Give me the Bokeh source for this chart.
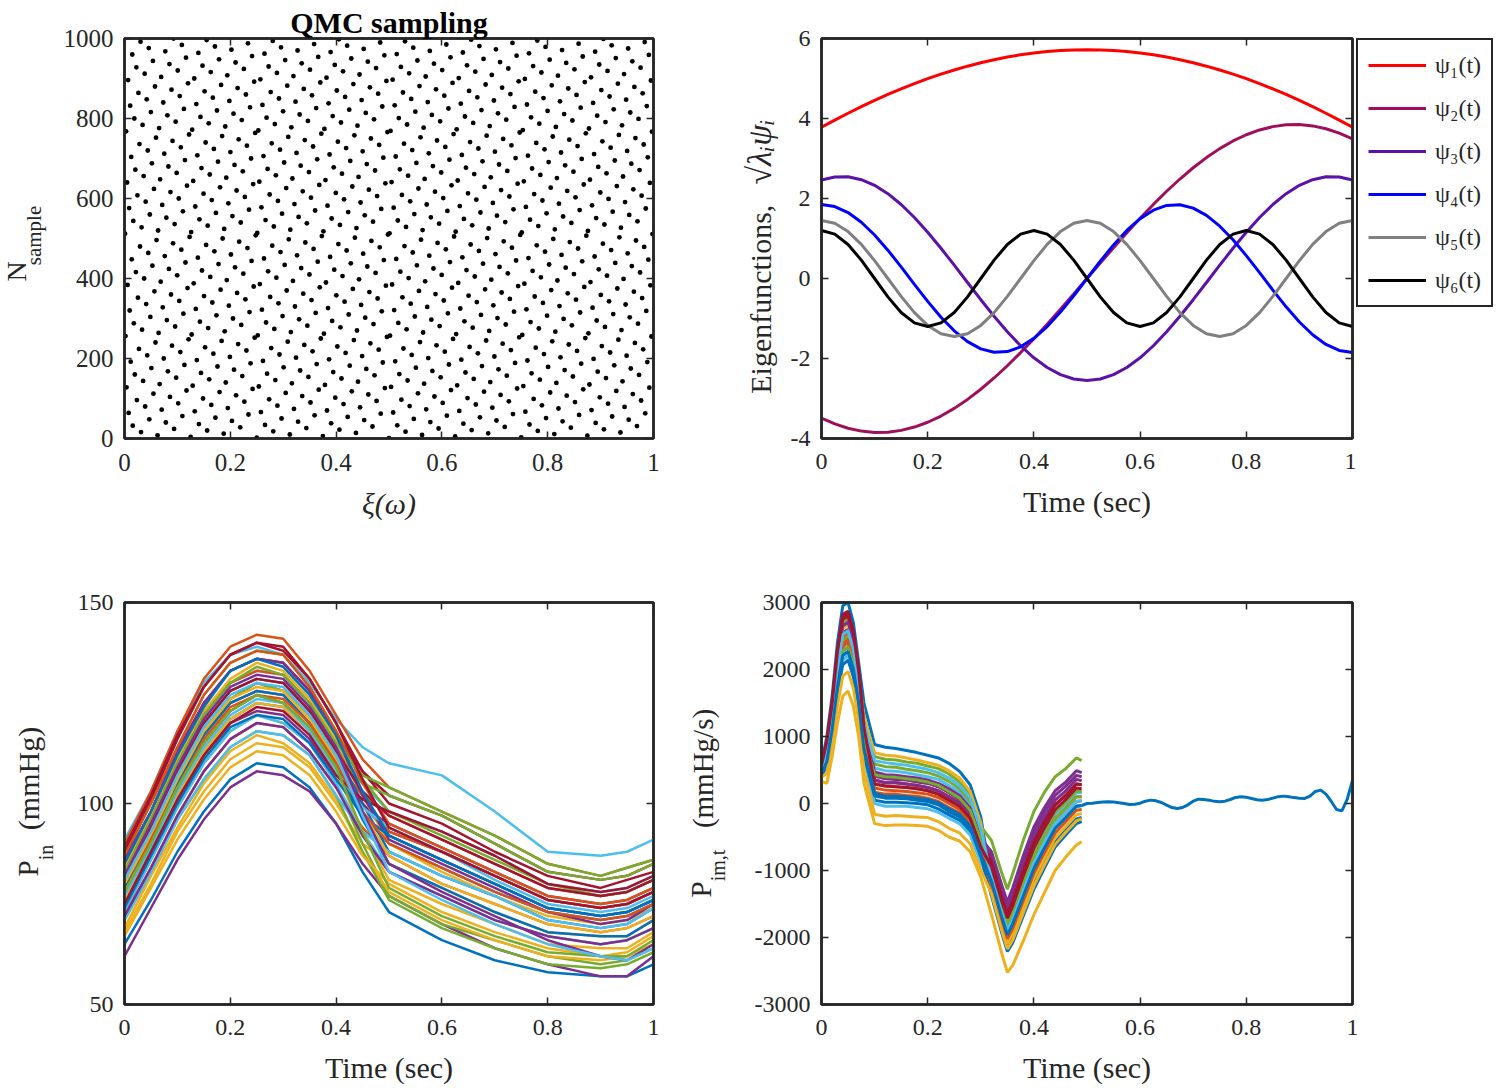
import numpy as np
from bokeh.plotting import figure
from bokeh.layouts import column, row
from bokeh.models import (Range1d, FixedTicker, LinearAxis, Legend, LegendItem,
                          ColumnDataSource)
from bokeh.core.properties import value
from bokeh.embed import file_html
from bokeh.resources import INLINE

FONT = "Liberation Serif"
INK = "#262626"
MATLAB_ORDER = ["#0072BD", "#D95319", "#EDB120", "#7E2F8E", "#77AC30", "#4DBEEE", "#A2142F"]

# ---------------- tick labels ----------------
X_TICKS = [0, 0.2, 0.4, 0.6, 0.8, 1]
X_TICK_LABELS = ["0", "0.2", "0.4", "0.6", "0.8", "1"]
QMC_Y_TICKS = [0, 200, 400, 600, 800, 1000]
QMC_Y_LABELS = ["0", "200", "400", "600", "800", "1000"]
EIG_Y_TICKS = [-4, -2, 0, 2, 4, 6]
EIG_Y_LABELS = ["-4", "-2", "0", "2", "4", "6"]
PIN_Y_TICKS = [50, 100, 150]
PIN_Y_LABELS = ["50", "100", "150"]
DP_Y_TICKS = [-3000, -2000, -1000, 0, 1000, 2000, 3000]
DP_Y_LABELS = ["-3000", "-2000", "-1000", "0", "1000", "2000", "3000"]

# ---------------- panel 1: QMC sampling (van der Corput / Sobol dim-1 points) ----------------
N_SAMPLES = 1000


def radical_inverse(n, base=2):
    v, denom = 0.0, 1.0
    while n:
        n, r = divmod(n, base)
        denom *= base
        v += r / denom
    return v


QMC_N = list(range(1, N_SAMPLES + 1))
QMC_XI = [radical_inverse(n) for n in QMC_N]

# ---------------- panel 2: eigenfunctions ----------------
T_EIG = [round(0.025 * k, 3) for k in range(41)]
PSI1 = [3.783, 3.960, 4.132, 4.296, 4.452, 4.601, 4.741, 4.872, 4.995, 5.109, 5.213, 5.308, 5.394,
        5.470, 5.536, 5.592, 5.638, 5.674, 5.699, 5.715, 5.720, 5.715, 5.699, 5.674, 5.638, 5.592,
        5.536, 5.470, 5.394, 5.308, 5.213, 5.109, 4.995, 4.872, 4.741, 4.601, 4.452, 4.296, 4.132,
        3.960, 3.783]
PSI2 = [-3.489, -3.635, -3.744, -3.815, -3.848, -3.842, -3.797, -3.714, -3.594, -3.438, -3.247,
        -3.023, -2.769, -2.487, -2.181, -1.852, -1.504, -1.142, -0.768, -0.386, 0.0, 0.386, 0.768,
        1.142, 1.504, 1.852, 2.181, 2.487, 2.769, 3.023, 3.247, 3.438, 3.594, 3.714, 3.797, 3.842,
        3.848, 3.815, 3.744, 3.635, 3.489]
PSI3 = [2.463, 2.539, 2.542, 2.471, 2.329, 2.120, 1.850, 1.526, 1.158, 0.756, 0.333, -0.100,
        -0.530, -0.945, -1.332, -1.681, -1.982, -2.225, -2.404, -2.513, -2.550, -2.513, -2.404,
        -2.225, -1.982, -1.681, -1.332, -0.945, -0.530, -0.100, 0.333, 0.756, 1.158, 1.526, 1.850,
        2.120, 2.329, 2.471, 2.542, 2.539, 2.463]
PSI4 = [1.850, 1.799, 1.648, 1.407, 1.087, 0.708, 0.289, -0.145, -0.572, -0.967, -1.308, -1.577,
        -1.760, -1.844, -1.827, -1.709, -1.497, -1.201, -0.840, -0.432, 0.0, 0.432, 0.840, 1.201,
        1.497, 1.709, 1.827, 1.844, 1.760, 1.577, 1.308, 0.967, 0.572, 0.145, -0.289, -0.708,
        -1.087, -1.407, -1.648, -1.799, -1.850]
PSI5 = [1.450, 1.379, 1.173, 0.852, 0.448, 0.0, -0.448, -0.852, -1.173, -1.379, -1.450, -1.379,
        -1.173, -0.852, -0.448, 0.0, 0.448, 0.852, 1.173, 1.379, 1.450, 1.379, 1.173, 0.852, 0.448,
        0.0, -0.448, -0.852, -1.173, -1.379, -1.450, -1.379, -1.173, -0.852, -0.448, 0.0, 0.448,
        0.852, 1.173, 1.379, 1.450]
PSI6 = [1.200, 1.109, 0.849, 0.459, 0.0, -0.459, -0.849, -1.109, -1.200, -1.109, -0.849, -0.459,
        0.0, 0.459, 0.849, 1.109, 1.200, 1.109, 0.849, 0.459, 0.0, -0.459, -0.849, -1.109, -1.200,
        -1.109, -0.849, -0.459, 0.0, 0.459, 0.849, 1.109, 1.200, 1.109, 0.849, 0.459, 0.0, -0.459,
        -0.849, -1.109, -1.200]
PSI_LABELS = ["ψ₁(t)", "ψ₂(t)", "ψ₃(t)", "ψ₄(t)", "ψ₅(t)", "ψ₆(t)"]
PSI_COLORS = ["#FF0000", "#A0105A", "#5C12A6", "#0000FF", "#808080", "#000000"]

# ---------------- panel 3: inlet pressure samples (mmHg) ----------------
T_P = [0, 0.05, 0.1, 0.15, 0.2, 0.25, 0.3, 0.35, 0.4, 0.45, 0.5, 0.6, 0.7, 0.8, 0.9, 0.95, 1.0]
P01 = [65, 76, 88, 98, 106, 110, 109, 104, 95, 83, 73, 66, 61, 58, 57, 57, 60]
P02 = [79, 91, 105, 117, 125, 128, 127, 120, 110, 102, 97, 91, 85, 79, 77, 78, 81]
P03 = [68, 80, 93, 103, 111, 115, 114, 109, 100, 90, 85, 79, 73, 68, 67, 67, 71]
P04 = [62, 74, 86, 96, 104, 108, 107, 103, 95, 85, 77, 70, 64, 60, 57, 57, 62]
P05 = [73, 86, 99, 110, 118, 122, 120, 115, 105, 90, 77, 70, 66, 62, 60, 61, 64]
P06 = [91, 103, 118, 130, 137, 139, 137, 130, 121, 114, 110, 107, 98, 88, 87, 88, 91]
P07 = [86, 98, 113, 125, 133, 136, 135, 128, 117, 108, 102, 97, 90, 83, 81, 82, 85]
P08 = [76, 89, 102, 113, 121, 125, 124, 118, 108, 97, 90, 84, 78, 73, 71, 72, 75]
P09 = [90, 103, 118, 131, 139, 142, 141, 133, 122, 111, 104, 98, 92, 85, 82, 84, 86]
P10 = [69, 82, 94, 105, 113, 117, 115, 110, 101, 88, 78, 71, 66, 62, 61, 62, 65]
P11 = [80, 93, 107, 118, 126, 130, 128, 122, 112, 100, 92, 86, 80, 74, 72, 73, 76]
P12 = [71, 83, 96, 106, 114, 118, 117, 112, 102, 88, 76, 69, 64, 60, 59, 60, 63]
P13 = [83, 96, 110, 122, 130, 133, 132, 125, 114, 105, 98, 93, 87, 80, 78, 79, 82]
P14 = [78, 90, 104, 115, 123, 127, 125, 119, 109, 100, 93, 88, 82, 76, 74, 75, 78]
P15 = [82, 94, 108, 120, 128, 131, 130, 123, 113, 100, 88, 82, 77, 71, 69, 70, 74]
P16 = [72, 84, 97, 108, 116, 120, 119, 113, 104, 94, 87, 80, 75, 70, 68, 69, 72]
P17 = [84, 97, 111, 123, 131, 135, 133, 126, 116, 102, 90, 83, 77, 72, 70, 71, 74]
P18 = [75, 87, 100, 112, 120, 123, 122, 116, 106, 99, 95, 89, 83, 77, 75, 76, 79]
P19 = [87, 100, 114, 127, 135, 138, 137, 129, 118, 106, 98, 92, 86, 80, 77, 78, 81]
P20 = [73, 86, 99, 110, 118, 122, 120, 115, 105, 93, 83, 77, 71, 67, 65, 66, 69]
P21 = [88, 101, 116, 129, 137, 140, 138, 131, 120, 108, 100, 95, 88, 82, 79, 81, 83]
P22 = [79, 91, 105, 117, 125, 128, 127, 120, 110, 96, 85, 79, 73, 68, 67, 67, 71]
P23 = [83, 96, 110, 122, 130, 133, 132, 125, 114, 102, 93, 88, 82, 76, 74, 75, 78]
P24 = [76, 89, 102, 113, 121, 125, 124, 118, 108, 93, 81, 75, 70, 65, 64, 64, 68]
P25 = [86, 98, 113, 125, 133, 136, 135, 128, 117, 102, 91, 85, 79, 73, 70, 71, 75]
P26 = [80, 93, 107, 118, 126, 130, 128, 122, 112, 105, 102, 97, 90, 83, 81, 82, 85]
P27 = [71, 83, 96, 106, 114, 118, 117, 112, 102, 93, 88, 82, 77, 71, 69, 70, 74]
P28 = [82, 94, 108, 120, 128, 131, 130, 123, 113, 103, 97, 91, 85, 79, 77, 78, 81]
P29 = [74, 87, 100, 111, 119, 122, 121, 115, 106, 97, 92, 86, 80, 74, 72, 73, 76]
P30 = [87, 100, 114, 127, 135, 138, 137, 129, 118, 105, 95, 89, 83, 77, 75, 76, 79]
P31 = [80, 92, 106, 118, 126, 129, 128, 121, 111, 98, 87, 80, 75, 70, 68, 69, 72]
P32 = [72, 84, 97, 108, 116, 120, 119, 113, 104, 92, 83, 77, 71, 67, 65, 66, 69]
P33 = [83, 96, 110, 122, 130, 134, 132, 125, 115, 107, 104, 98, 92, 85, 82, 84, 86]
P34 = [77, 89, 103, 114, 122, 126, 125, 118, 108, 99, 94, 88, 81, 75, 73, 74, 77]
P35 = [75, 88, 101, 112, 120, 124, 123, 117, 107, 101, 98, 93, 87, 80, 78, 79, 82]
P36 = [85, 98, 112, 124, 133, 136, 134, 127, 117, 103, 92, 86, 80, 74, 72, 73, 76]
P37 = [78, 91, 104, 116, 124, 127, 126, 120, 110, 98, 90, 84, 78, 73, 71, 72, 75]
P38 = [67, 79, 91, 101, 109, 113, 112, 107, 98, 87, 80, 73, 68, 64, 62, 63, 67]
P39 = [82, 95, 109, 121, 129, 132, 131, 124, 114, 98, 85, 78, 72, 66, 62, 61, 65]
P40 = [78, 90, 104, 115, 123, 127, 125, 119, 109, 93, 79, 72, 67, 63, 62, 62, 66]
P41 = [81, 93, 107, 119, 127, 130, 129, 122, 112, 97, 83, 76, 70, 65, 62, 61, 64]
P42 = [89, 102, 117, 129, 137, 140, 139, 131, 120, 106, 94, 88, 82, 76, 74, 75, 78]
P_IN_SAMPLES = [P01, P02, P03, P04, P05, P06, P07, P08, P09, P10, P11, P12, P13, P14, P15, P16,
                P17, P18, P19, P20, P21, P22, P23, P24, P25, P26, P27, P28, P29, P30, P31, P32,
                P33, P34, P35, P36, P37, P38, P39, P40, P41, P42]

# ---------------- panel 4: pressure time-derivative samples (mmHg/s) ----------------
T_D = [0, 0.01, 0.02, 0.03, 0.04, 0.05, 0.06, 0.07, 0.08, 0.10, 0.12, 0.14, 0.16, 0.18, 0.20,
       0.22, 0.24, 0.26, 0.28, 0.30, 0.32, 0.34, 0.35, 0.36, 0.38, 0.40, 0.42, 0.44, 0.46, 0.48,
       0.49]
D01 = [600, 1000, 1600, 2400, 2950, 3000, 2700, 2100, 1500, 880, 840, 820, 790, 760, 720, 680,
       600, 480, 280, -200, -1160, -1710, -1960, -1800, -1380, -970, -660, -370, -210, -40, -30]
D02 = [480, 690, 1200, 1860, 2340, 2410, 2140, 1610, 900, 230, 200, 190, 180, 160, 140, 90, 0,
       -90, -270, -700, -1100, -1650, -1900, -1740, -1300, -890, -580, -300, -140, 30, 40]
D03 = [330, 300, 700, 1200, 1600, 1680, 1450, 1000, 300, -300, -330, -320, -320, -330, -340,
       -400, -500, -560, -720, -1100, -1650, -2250, -2520, -2420, -2050, -1660, -1330, -1000,
       -800, -620, -570]
D04 = [520, 790, 1330, 2040, 2550, 2600, 2330, 1770, 1080, 410, 370, 360, 350, 320, 300, 250,
       160, 60, -120, -560, -830, -1350, -1590, -1390, -930, -510, -210, 50, 190, 360, 340]
D05 = [550, 870, 1440, 2180, 2710, 2760, 2480, 1900, 1300, 700, 660, 650, 620, 600, 560, 520,
       440, 320, 130, -340, -550, -1050, -1280, -1050, -550, -120, 170, 400, 520, 680, 640]
D06 = [490, 720, 1240, 1920, 2410, 2470, 2200, 1660, 1080, 530, 490, 480, 460, 430, 400, 360,
       270, 170, -20, -470, -990, -1530, -1780, -1600, -1150, -740, -430, -160, -10, 160, 160]
D07 = [570, 930, 1510, 2280, 2820, 2870, 2580, 1990, 1170, 350, 310, 310, 290, 270, 240, 190,
       100, 10, -170, -600, -880, -1410, -1650, -1460, -1000, -580, -280, -20, 120, 290, 280]
D08 = [450, 620, 1100, 1740, 2210, 2270, 2010, 1500, 750, 50, 20, 20, 10, 0, -20, -80, -170,
       -250, -420, -830, -1320, -1890, -2150, -2010, -1600, -1200, -880, -580, -400, -230, -210]
D09 = [510, 760, 1290, 1980, 2480, 2540, 2260, 1720, 930, 170, 140, 140, 120, 110, 80, 30, -60,
       -140, -320, -740, -1050, -1590, -1840, -1670, -1230, -810, -510, -230, -70, 100, 100]
D10 = [530, 830, 1380, 2100, 2610, 2670, 2390, 1830, 1290, 760, 720, 710, 680, 650, 610, 570,
       490, 380, 180, -290, -1270, -1830, -2090, -1940, -1530, -1120, -810, -510, -340, -170,
       -150]
D11 = [470, 650, 1150, 1800, 2280, 2340, 2080, 1550, 930, 350, 310, 310, 290, 270, 240, 190, 100,
       10, -170, -600, -770, -1290, -1530, -1320, -850, -430, -130, 120, 260, 420, 400]
D12 = [500, 730, 1260, 1940, 2440, 2500, 2230, 1680, 1120, 590, 550, 540, 510, 490, 460, 410,
       330, 220, 30, -430, -970, -1510, -1750, -1570, -1120, -710, -400, -130, 20, 190, 180]
D13 = [440, 580, 1060, 1680, 2140, 2210, 1950, 1440, 690, 0, -40, -40, -40, -60, -80, -130, -220,
       -300, -470, -880, -1160, -1710, -1960, -1800, -1380, -970, -660, -370, -210, -40, -30]
D14 = [560, 900, 1470, 2220, 2750, 2800, 2510, 1940, 1180, 430, 400, 390, 370, 350, 320, 270,
       180, 80, -100, -540, -880, -1410, -1650, -1460, -1000, -580, -280, -20, 120, 290, 280]
D15 = [420, 550, 1020, 1620, 2070, 2140, 1890, 1390, 720, 110, 80, 80, 70, 50, 30, -20, -120,
       -200, -370, -790, -1380, -1950, -2210, -2080, -1680, -1280, -960, -650, -470, -300, -270]
D16 = [490, 710, 1220, 1900, 2380, 2450, 2180, 1640, 950, 290, 260, 250, 240, 220, 190, 140, 50,
       -40, -220, -650, -1210, -1770, -2020, -1870, -1450, -1040, -730, -440, -270, -100, -90]
D17 = [390, 450, 900, 1460, 1900, 1970, 1720, 1240, 500, -160, -190, -180, -190, -200, -210,
       -270, -370, -440, -600, -990, -1340, -1910, -2170, -2040, -1630, -1230, -910, -610, -430,
       -260, -230]
D18 = [540, 850, 1400, 2140, 2650, 2710, 2420, 1860, 1160, 470, 430, 420, 400, 380, 350, 300,
       220, 120, -70, -520, -720, -1230, -1470, -1260, -780, -350, -60, 190, 320, 490, 460]
D19 = [470, 650, 1150, 1800, 2280, 2340, 2080, 1550, 970, 430, 400, 390, 370, 350, 320, 270, 180,
       80, -100, -540, -1050, -1590, -1840, -1670, -1230, -810, -510, -230, -70, 100, 100]
D20 = [510, 780, 1310, 2020, 2520, 2580, 2300, 1750, 1190, 640, 610, 590, 570, 540, 510, 460,
       380, 270, 80, -380, -1100, -1650, -1900, -1740, -1300, -890, -580, -300, -140, 30, 40]
D21 = [570, 920, 1490, 2260, 2790, 2840, 2550, 1970, 1130, 290, 260, 250, 240, 220, 190, 140, 50,
       -40, -220, -650, -940, -1470, -1710, -1530, -1080, -660, -360, -90, 60, 230, 220]
D22 = [450, 620, 1100, 1740, 2210, 2270, 2010, 1500, 800, 150, 110, 110, 100, 80, 60, 10, -80,
       -160, -340, -760, -1160, -1710, -1960, -1800, -1380, -970, -660, -370, -210, -40, -30]
DPDT_SAMPLES = [D01, D02, D03, D04, D05, D06, D07, D08, D09, D10, D11, D12, D13, D14, D15, D16,
                D17, D18, D19, D20, D21, D22]
T_TAIL = [0.49] + [round(0.50 + 0.01 * k, 2) for k in range(51)]
D_TAIL = [-30, 0, 5, 15, 22, 25, 22, 12, 0, -14, -12, 5, 35, 50, 40, 15, -25, -60, -75, -60, -20,
          35, 65, 60, 50, 32, 25, 35, 60, 90, 100, 92, 75, 57, 50, 58, 80, 102, 110, 102, 88, 77,
          75, 110, 180, 200, 140, 30, -90, -110, 60, 350]


# ---------------- helpers ----------------
def make_fig(width, height, xr, yr, mbl, mbr, mbt, mbb, title=None):
    p = figure(width=width, height=height, x_range=Range1d(*xr), y_range=Range1d(*yr),
               output_backend="svg", toolbar_location=None, title=title,
               min_border_left=mbl, min_border_right=mbr, min_border_top=mbt,
               min_border_bottom=mbb)
    p.grid.visible = False
    p.outline_line_color = INK
    p.outline_line_width = 2.5
    p.outline_line_alpha = 1
    p.background_fill_color = "white"
    p.border_fill_color = "white"
    return p


def make_strip(x0, x1, frame_top, frame_bottom, height):
    """Blank figure whose data coordinates equal page pixels; it carries axis titles / legend.
    Its frame is aligned by the row layout with the neighbouring plot frames."""
    s = figure(width=x1 - x0, height=height, x_range=Range1d(x0, x1),
               y_range=Range1d(frame_bottom, frame_top), output_backend="svg",
               toolbar_location=None, x_axis_location=None, y_axis_location=None,
               min_border_left=0, min_border_right=0, min_border_top=0, min_border_bottom=0)
    s.grid.visible = False
    s.outline_line_color = None
    s.background_fill_color = "white"
    s.border_fill_color = "white"
    return s


def axis_common(ax):
    ax.axis_line_color = INK
    ax.axis_line_width = 2.5
    ax.major_tick_in = 7
    ax.major_tick_out = 0
    ax.major_tick_line_color = INK
    ax.major_tick_line_width = 1.5
    ax.minor_tick_line_color = None


def style_axes(p, xticks, xlabels, yticks, ylabels, fs="24px", xlabel=None, xlabel_style="normal"):
    xa, ya = p.xaxis[0], p.yaxis[0]
    xa.ticker = FixedTicker(ticks=xticks)
    ya.ticker = FixedTicker(ticks=yticks)
    xa.major_label_overrides = {t: l for t, l in zip(xticks, xlabels)}
    ya.major_label_overrides = {t: l for t, l in zip(yticks, ylabels)}
    for ax in (xa, ya):
        axis_common(ax)
        ax.major_label_text_font = FONT
        ax.major_label_text_font_size = fs
        ax.major_label_text_color = INK
    xa.major_label_standoff = 15
    ya.major_label_standoff = 11
    if xlabel:
        xa.axis_label = xlabel
        xa.axis_label_text_font = FONT
        xa.axis_label_text_font_size = "30px"
        xa.axis_label_text_font_style = xlabel_style
        xa.axis_label_text_color = INK
        xa.axis_label_standoff = 13
    top = LinearAxis(ticker=FixedTicker(ticks=xticks),
                     major_label_overrides={t: "" for t in xticks})
    right = LinearAxis(ticker=FixedTicker(ticks=yticks),
                       major_label_overrides={t: "" for t in yticks})
    for ax in (top, right):
        axis_common(ax)
        ax.major_label_standoff = 0
        ax.major_label_text_font_size = "1px"
    p.add_layout(top, "above")
    p.add_layout(right, "right")


def vtext(s, x, y, text, size, style="normal"):
    s.text(x=[x], y=[y], text=[text], angle=np.pi / 2, text_font=value(FONT),
           text_font_size=value(size), text_font_style=style, text_color=INK,
           text_align="center", text_baseline="middle")


TOP_H, BOT_H = 560, 528

# ---------------- top row (frames at y 38..440) ----------------
s1 = make_strip(0, 56, 38, 440, TOP_H)
vtext(s1, 16, 272, "N", "28px")
vtext(s1, 33, 236, "sample", "21px")

p1 = make_fig(617, TOP_H, (0, 1), (0, 1000), 68, 20, 38, 122, title="QMC sampling")
p1.title.text_font = FONT
p1.title.text_font_size = "30px"
p1.title.text_font_style = "bold"
p1.title.text_color = "black"
p1.title.align = "center"
p1.title.standoff = 0
p1.scatter(QMC_XI, QMC_N, size=4.8, color="black", line_color=None)
style_axes(p1, X_TICKS, X_TICK_LABELS, QMC_Y_TICKS, QMC_Y_LABELS, fs="25px",
           xlabel="ξ(ω)", xlabel_style="italic")

s2 = make_strip(673, 785, 38, 440, TOP_H)
vtext(s2, 760, 300, "Eigenfunctions,", "30px")
vtext(s2, 759, 152, "√λᵢψᵢ", "34px", "italic")

p2 = make_fig(571, TOP_H, (0, 1), (-4, 6), 36, 4, 38, 122)
for ys, col in zip([PSI1, PSI2, PSI3, PSI4, PSI5, PSI6], PSI_COLORS):
    p2.line(T_EIG, ys, line_color=col, line_width=3)
style_axes(p2, X_TICKS, X_TICK_LABELS, EIG_Y_TICKS, EIG_Y_LABELS, xlabel="Time (sec)")

# legend strip (x 1356..1500); legend swatches use off-frame sample lines in the same colours
s3 = make_strip(1356, 1500, 38, 440, TOP_H)
items = []
for col, lab in zip(PSI_COLORS, PSI_LABELS):
    r = s3.line(x=[0, 1], y=[0, 0], line_color=col, line_width=3)
    items.append(LegendItem(label=lab, renderers=[r]))
leg = Legend(items=items, location="top_left", margin=0, padding=10, spacing=13,
             glyph_width=58, glyph_height=30, label_height=30, label_standoff=9,
             label_text_font=FONT, label_text_font_size="24px", label_text_color=INK,
             border_line_color=INK, border_line_width=2.5, border_line_alpha=1,
             background_fill_color="white", background_fill_alpha=1)
s3.add_layout(leg)

# ---------------- bottom row (frames at y 602..1004) ----------------
s4 = make_strip(0, 56, 602, 1004, BOT_H)
vtext(s4, 27, 868, "P", "29px")
vtext(s4, 45, 852, "in", "20px")
vtext(s4, 28, 778, "(mmHg)", "30px")

p3 = make_fig(617, BOT_H, (0, 1), (50, 150), 68, 20, 42, 84)
src3 = ColumnDataSource(dict(xs=[T_P] * len(P_IN_SAMPLES), ys=P_IN_SAMPLES,
                             color=[MATLAB_ORDER[i % 7] for i in range(len(P_IN_SAMPLES))]))
p3.multi_line("xs", "ys", line_color="color", line_width=2.5, source=src3)
style_axes(p3, X_TICKS, X_TICK_LABELS, PIN_Y_TICKS, PIN_Y_LABELS, xlabel="Time (sec)")

s5 = make_strip(673, 740, 602, 1004, BOT_H)
vtext(s5, 700, 889, "P", "29px")
vtext(s5, 717, 865, "im,t", "20px")
vtext(s5, 702, 768, "(mmHg/s)", "29px")

p4 = make_fig(632, BOT_H, (0, 1), (-3000, 3000), 81, 20, 42, 84)
src4 = ColumnDataSource(dict(xs=[T_D] * len(DPDT_SAMPLES), ys=DPDT_SAMPLES,
                             color=[MATLAB_ORDER[i % 7] for i in range(len(DPDT_SAMPLES))]))
p4.multi_line("xs", "ys", line_color="color", line_width=3, source=src4)
p4.line(T_TAIL, D_TAIL, line_color=MATLAB_ORDER[0], line_width=3)
style_axes(p4, X_TICKS, X_TICK_LABELS, DP_Y_TICKS, DP_Y_LABELS, xlabel="Time (sec)")

layout = column(row(s1, p1, s2, p2, s3), row(s4, p3, s5, p4))
with open("out.html", "w", encoding="utf-8") as f:
    f.write(file_html(layout, INLINE, title="QMC sampling"))
